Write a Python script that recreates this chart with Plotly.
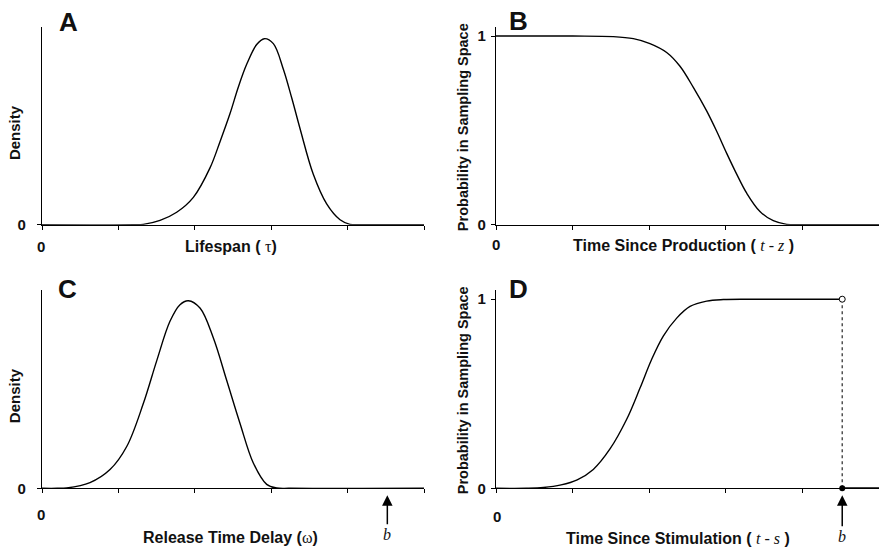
import plotly.graph_objects as go

# ---------------- data ----------------
ticks_x = [0, 1, 2, 3, 4, 5]

# Panel A: lifespan density
a_x = [0, 1.20, 1.326, 1.545, 1.763, 1.981, 2.199, 2.330, 2.461, 2.570, 2.679, 2.810, 2.910, 3.028, 3.159, 3.270, 3.377, 3.551, 3.726, 3.901, 4.031, 4.20, 5]
a_y = [0, 0, 0.002, 0.023, 0.066, 0.145, 0.301, 0.440, 0.589, 0.730, 0.850, 0.955, 0.986, 0.960, 0.824, 0.670, 0.510, 0.267, 0.110, 0.026, 0.002, 0, 0]

# Panel B: probability in sampling space vs time since production
b_x = [0, 1.000, 1.532, 1.793, 2.010, 2.228, 2.402, 2.576, 2.750, 2.881, 3.012, 3.142, 3.273, 3.446, 3.620, 3.795, 4.0, 5]
b_y = [1, 1.000, 0.997, 0.986, 0.960, 0.913, 0.840, 0.728, 0.603, 0.495, 0.378, 0.268, 0.167, 0.070, 0.021, 0.002, 0, 0]

# Panel C: release time delay density
c_x = [0, 0.20, 0.323, 0.628, 0.890, 1.109, 1.326, 1.501, 1.675, 1.806, 1.915, 2.068, 2.242, 2.418, 2.592, 2.766, 2.941, 3.072, 3.25, 5]
c_y = [0, 0, 0.002, 0.030, 0.099, 0.221, 0.448, 0.674, 0.883, 0.971, 0.992, 0.953, 0.796, 0.570, 0.343, 0.134, 0.021, 0.002, 0, 0]

# Panel D: probability in sampling space vs time since stimulation
b_mark = 4.52
d_x = [0, 0.40, 0.620, 0.850, 1.060, 1.270, 1.488, 1.706, 1.880, 2.030, 2.184, 2.359, 2.533, 2.750, 2.968, 3.30, b_mark]
d_y = [0, 0, 0.004, 0.018, 0.045, 0.100, 0.208, 0.365, 0.530, 0.680, 0.805, 0.900, 0.962, 0.990, 0.998, 1.0, 1.0]
d_tail_x = [b_mark, 5]
d_tail_y = [0, 0]

# ---------------- figure ----------------
W, H = 879, 552
SANS = "Liberation Sans, Arial, Helvetica, sans-serif"
SERIF = "Liberation Serif, Times New Roman, serif"
INK = "#111111"

fig = go.Figure()

line = dict(color="black", width=1.4, shape="spline", smoothing=1.0)

fig.add_trace(go.Scatter(x=a_x, y=a_y, mode="lines", line=line, xaxis="x", yaxis="y", showlegend=False, hoverinfo="skip"))
fig.add_trace(go.Scatter(x=b_x, y=b_y, mode="lines", line=line, xaxis="x2", yaxis="y2", showlegend=False, hoverinfo="skip"))
fig.add_trace(go.Scatter(x=c_x, y=c_y, mode="lines", line=line, xaxis="x3", yaxis="y3", showlegend=False, hoverinfo="skip"))
fig.add_trace(go.Scatter(x=d_x, y=d_y, mode="lines", line=line, xaxis="x4", yaxis="y4", showlegend=False, hoverinfo="skip"))
fig.add_trace(go.Scatter(x=d_tail_x, y=d_tail_y, mode="lines", line=dict(color="black", width=2),
                         xaxis="x4", yaxis="y4", showlegend=False, hoverinfo="skip"))
# dotted drop at b
fig.add_trace(go.Scatter(x=[b_mark, b_mark], y=[0, 1], mode="lines",
                         line=dict(color="#444444", width=1.4, dash="dot"),
                         xaxis="x4", yaxis="y4", showlegend=False, hoverinfo="skip"))
# open circle at (b,1) and filled dot at (b,0)
fig.add_trace(go.Scatter(x=[b_mark], y=[1], mode="markers", cliponaxis=False,
                         marker=dict(size=6, color="white", line=dict(color="black", width=1)),
                         xaxis="x4", yaxis="y4", showlegend=False, hoverinfo="skip"))
fig.add_trace(go.Scatter(x=[b_mark], y=[0], mode="markers", cliponaxis=False,
                         marker=dict(size=6, color="black"),
                         xaxis="x4", yaxis="y4", showlegend=False, hoverinfo="skip"))

def px_x(p):
    return p / W

def px_y(p):
    return 1 - p / H

left_dom = [px_x(42), px_x(424)]
right_dom = [px_x(496), 1.0]
top_dom = [px_y(228), px_y(27)]
bot_dom = [px_y(495.5), px_y(294)]

def xax(dom, anchor):
    return dict(domain=dom, anchor=anchor, range=[0, 5], tickvals=ticks_x, showticklabels=False,
                ticks="outside", ticklen=4, tickwidth=1, tickcolor="black",
                showline=True, linecolor="black", linewidth=1.2,
                showgrid=False, zeroline=False, fixedrange=True)

def yax(dom, anchor, vals, standoff):
    return dict(domain=dom, anchor=anchor, range=[0, 1.05], tickvals=vals, ticktext=[str(v) for v in vals],
                ticks="outside", ticklen=4, tickwidth=1, tickcolor="black",
                tickfont=dict(family=SANS, size=15, color=INK, weight="bold"),
                ticklabelstandoff=standoff,
                showline=True, linecolor="black", linewidth=1.2,
                showgrid=False, zeroline=False, fixedrange=True)

fig.update_layout(
    width=W, height=H,
    margin=dict(l=0, r=0, t=0, b=0),
    paper_bgcolor="white", plot_bgcolor="white",
    showlegend=False,
    xaxis=xax(left_dom, "y"), yaxis=yax(top_dom, "x", [0], 8),
    xaxis2=xax(right_dom, "y2"), yaxis2=yax(top_dom, "x2", [0, 1], 2),
    xaxis3=xax(left_dom, "y3"), yaxis3=yax(bot_dom, "x3", [0], 8),
    xaxis4=xax(right_dom, "y4"), yaxis4=yax(bot_dom, "x4", [0, 1], 2),
)

ann = []
def text(x, y, s, size=16, angle=0, family=SANS, weight="bold", xanchor="center"):
    ann.append(dict(x=px_x(x), y=px_y(y), xref="paper", yref="paper", text=s, showarrow=False,
                    textangle=angle, xanchor=xanchor, yanchor="middle",
                    font=dict(family=family, size=size, color=INK, weight=weight)))

# panel letters
text(68, 22, "A", size=26)
text(518, 21, "B", size=26)
text(67, 293, "C", size=26)
text(518, 293, "D", size=26)

g = "font-family:'Liberation Serif',serif;font-weight:normal"
# x-axis titles
text(231, 250, f"Lifespan ( <span style=\"{g}\">τ</span>)")
text(683, 249, f"Time Since Production ( <span style=\"{g}\"><i>t</i> - <i>z</i></span> )")
text(230, 545, f"Release Time Delay (<span style=\"{g}\">ω</span>)")
text(678, 546, f"Time Since Stimulation ( <span style=\"{g}\"><i>t</i> - <i>s</i></span> )")

# y-axis titles
text(14, 134, "Density", size=15, angle=-90)
text(463, 129, "Probability in Sampling Space", size=14.5, angle=-90)
text(14, 401, "Density", size=15, angle=-90)
text(463, 396, "Probability in Sampling Space", size=14.5, angle=-90)

# x-axis "0" labels
text(41, 250, "0", size=15)
text(496, 248, "0", size=15)
text(41, 522, "0", size=15)
text(497, 524, "0", size=15)

# b arrows
for xr, yr, ay in (("x3", "y3", 46), ("x4", "y4", 48)):
    ann.append(dict(x=b_mark, y=0, xref=xr, yref=yr, text="<i>b</i>", showarrow=True,
                    ax=0, ay=ay, axref="pixel", ayref="pixel",
                    arrowhead=2, arrowsize=1.4, arrowwidth=1.5, arrowcolor="black", standoff=7,
                    font=dict(family=SERIF, size=16, color=INK)))

fig.update_layout(annotations=ann)

fig.write_html("out.html", config={"displayModeBar": False},
               post_script="document.body.style.margin='0';")
